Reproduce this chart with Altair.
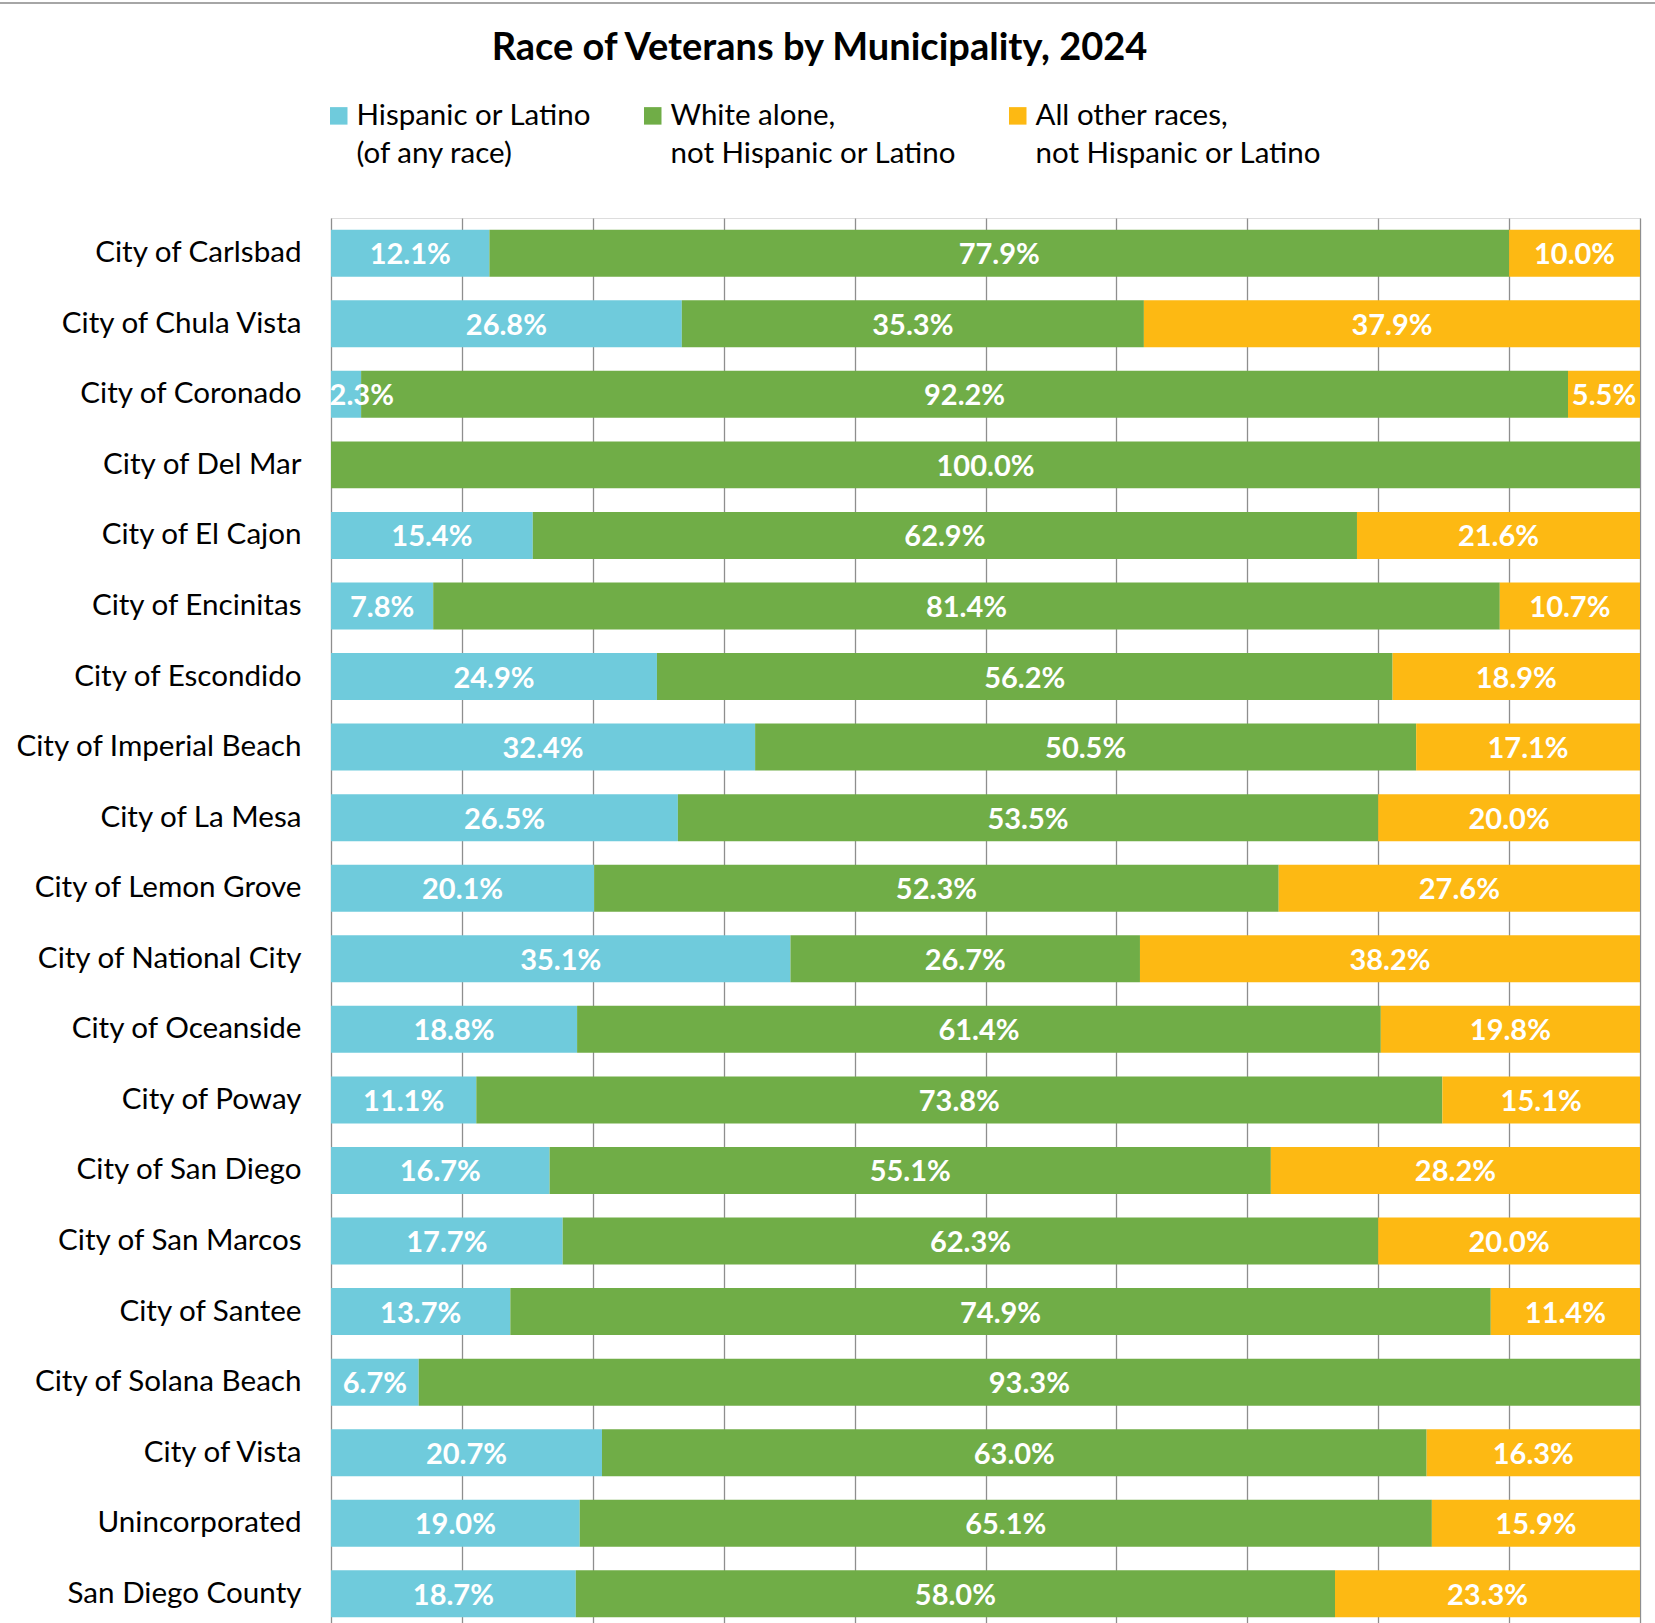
import altair as alt
import pandas as pd

# Share of veterans by race/ethnicity, per municipality (percent)
cities = [
    "City of Carlsbad", "City of Chula Vista", "City of Coronado", "City of Del Mar",
    "City of El Cajon", "City of Encinitas", "City of Escondido", "City of Imperial Beach",
    "City of La Mesa", "City of Lemon Grove", "City of National City", "City of Oceanside",
    "City of Poway", "City of San Diego", "City of San Marcos", "City of Santee",
    "City of Solana Beach", "City of Vista", "Unincorporated", "San Diego County",
]
hispanic = [12.1, 26.8, 2.3, 0.0, 15.4, 7.8, 24.9, 32.4, 26.5, 20.1,
            35.1, 18.8, 11.1, 16.7, 17.7, 13.7, 6.7, 20.7, 19.0, 18.7]
white = [77.9, 35.3, 92.2, 100.0, 62.9, 81.4, 56.2, 50.5, 53.5, 52.3,
         26.7, 61.4, 73.8, 55.1, 62.3, 74.9, 93.3, 63.0, 65.1, 58.0]
other = [10.0, 37.9, 5.5, 0.0, 21.6, 10.7, 18.9, 17.1, 20.0, 27.6,
         38.2, 19.8, 15.1, 28.2, 20.0, 11.4, 0.0, 16.3, 15.9, 23.3]

series = [
    "Hispanic or Latino|(of any race)",
    "White alone,|not Hispanic or Latino",
    "All other races,|not Hispanic or Latino",
]
colors = ["#6FCBDC", "#70AD47", "#FDB913"]

rows = []
for i, city in enumerate(cities):
    for k, vals in enumerate([hispanic, white, other]):
        rows.append({"city": city, "group": series[k], "order": k, "value": vals[i]})
df = pd.DataFrame(rows)

FONT = "Lato"

base = alt.Chart(df).transform_stack(
    stack="value",
    groupby=["city"],
    as_=["x0", "x1"],
    offset="normalize",
    sort=[alt.SortField("order", order="ascending")],
).transform_calculate(
    # centre of each segment, kept clear of the left plot edge for thin slices
    mid="max((datum.x0 + datum.x1) / 2, 0.0235)",
    label="format(datum.value, '.1f') + '%'",
)

y_enc = alt.Y(
    "city:N",
    sort=cities,
    scale=alt.Scale(paddingInner=0.334, paddingOuter=0.123, align=0.674),
    axis=alt.Axis(
        title=None, domain=False, ticks=False, labelPadding=30, labelLimit=400,
        labelFont=FONT, labelFontSize=29.6, labelColor="#000000",
    ),
)

bars = base.mark_bar().encode(
    y=y_enc,
    x=alt.X(
        "x0:Q",
        scale=alt.Scale(domain=[0, 1], nice=False, zero=True),
        axis=alt.Axis(
            title=None, labels=False, ticks=False, domain=False, grid=True,
            values=[i / 10 for i in range(11)],
            gridColor="#8E8E8E", gridWidth=1.3,
        ),
    ),
    x2="x1:Q",
    color=alt.Color(
        "group:N",
        sort=series,
        scale=alt.Scale(domain=series, range=colors),
        legend=alt.Legend(
            title=None, orient="none", direction="horizontal",
            legendX=-7, legendY=-117, padding=0,
            symbolType="square", symbolSize=306, symbolStrokeWidth=0,
            labelFont=FONT, labelFontSize=29.5, labelColor="#000000",
            labelOffset=3, labelLimit=600, columnPadding=46,
            labelExpr="split(datum.label, '|')",
        ),
    ),
)

labels = base.transform_filter("datum.value > 0").mark_text(
    color="white", font=FONT, fontWeight="bold", fontSize=29, baseline="middle", dy=2,
).encode(
    y=alt.Y("city:N", sort=cities),
    x=alt.X("mid:Q"),
    text="label:N",
)

top_border = alt.Chart(df).mark_rule(color="#A6A6A6", strokeWidth=2).encode(
    x=alt.value(-331), x2=alt.value(1324), y=alt.value(-215)
)

chart = alt.layer(bars, labels, top_border).properties(
    width=1309,
    height=1405,
    padding={"left": 331, "top": 218, "right": 15, "bottom": 0},
    autosize=alt.AutoSizeParams(type="none"),
    title=alt.TitleParams(
        "Race of Veterans by Municipality, 2024",
        font=FONT, fontSize=38, fontWeight="bold", color="#000000",
        anchor="middle", dx=-166, dy=38, baseline="alphabetic", offset=-58,
    ),
).configure_view(strokeWidth=0).configure(
    background="white",
    style={"guide-label": {"lineHeight": 38.5}},
)

chart.save("out.html", embed_options={"renderer": "svg", "actions": False})
